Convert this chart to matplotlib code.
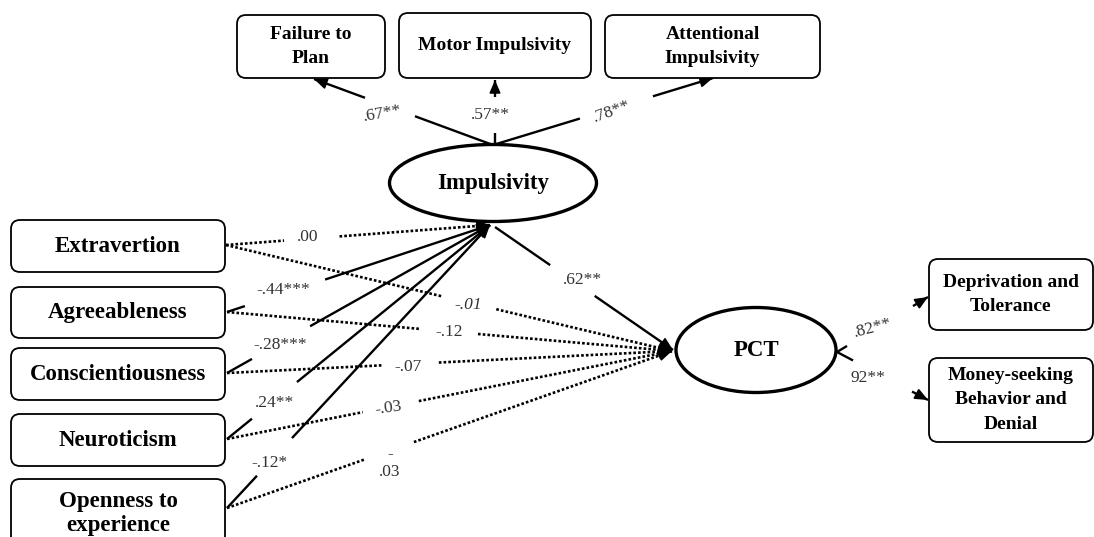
import numpy as np
import matplotlib
matplotlib.use("Agg")
import matplotlib.pyplot as plt
from matplotlib.patches import FancyBboxPatch, Ellipse

# ---------------- data ----------------
predictors = ["Extravertion", "Agreeableness", "Conscientiousness", "Neuroticism", "Openness to\nexperience"]
coef_to_impulsivity = [".00", "-.44***", "-.28***", ".24**", "-.12*"]
significant_to_impulsivity = [False, True, True, True, True]
coef_to_pct = ["-.01", "-.12", "-.07", "-.03", "-\n.03"]
impulsivity_indicators = ["Failure to\nPlan", "Motor Impulsivity", "Attentional\nImpulsivity"]
impulsivity_loadings = [".67**", ".57**", ".78**"]
pct_indicators = ["Deprivation and\nTolerance", "Money-seeking\nBehavior and\nDenial"]
pct_loadings = [".82**", "92**"]
impulsivity_to_pct = ".62**"
latent_names = ["Impulsivity", "PCT"]

# ---------------- layout (pixel coordinates) ----------------
W, H = 1094, 537
fig = plt.figure(figsize=(W / 100, H / 100), dpi=100)
ax = fig.add_axes([0, 0, 1, 1])
ax.set_xlim(0, W)
ax.set_ylim(H, 0)
ax.axis("off")

SERIF = ["Liberation Serif", "DejaVu Serif"]
LBL = "#333333"

def box(x0, y0, x1, y1, text, size, ls=1.55):
    p = FancyBboxPatch((x0, y0), x1 - x0, y1 - y0,
                       boxstyle="round,pad=0,rounding_size=9",
                       fc="white", ec="black", lw=1.3, zorder=3)
    ax.add_patch(p)
    ax.text((x0 + x1) / 2, (y0 + y1) / 2, text, ha="center", va="center",
            family=SERIF, weight="bold", fontsize=size, linespacing=ls, zorder=4)

def oval(cx, cy, w, h, text):
    e = Ellipse((cx, cy), w, h, fc="white", ec="black", lw=2.4, zorder=3)
    ax.add_patch(e)
    ax.text(cx, cy, text, ha="center", va="center", family=SERIF,
            weight="bold", fontsize=16.5, zorder=4)

def path(p0, p1, gap=None, dotted=False, head=True, lw=1.7):
    p0 = np.array(p0, float); p1 = np.array(p1, float)
    d = p1 - p0
    ls = (0, (1.0, 0.8)) if dotted else "-"
    if gap is None:
        segs = [(p0, p1)]
    else:
        segs = [(p0, p0 + gap[0] * d), (p0 + gap[1] * d, p1)]
    for a, b in segs:
        ax.plot([a[0], b[0]], [a[1], b[1]], color="black", lw=lw if not dotted else 1.9,
                linestyle=ls, solid_capstyle="butt", zorder=2)
    if head:
        u = d / np.linalg.norm(d)
        ax.annotate("", xy=p1, xytext=p1 - 3 * u,
                    arrowprops=dict(arrowstyle="-|>,head_length=0.65,head_width=0.28",
                                    mutation_scale=12, lw=1.2, color="black",
                                    shrinkA=0, shrinkB=0), zorder=2)

def label(x, y, s, rot=0, italic=False, size=12.5):
    ax.text(x, y, s, ha="center", va="center", family=SERIF, fontsize=size,
            color=LBL, rotation=rot, style="italic" if italic else "normal",
            linespacing=1.2, zorder=5)

# latent variables
imp_c = (493, 183)
pct_c = (756, 350)
oval(*imp_c, 207, 77, latent_names[0])
oval(*pct_c, 160, 85, latent_names[1])

# impulsivity indicators (top)
top_boxes = [(237, 15, 385, 78), (399, 13, 591, 78), (605, 15, 820, 78)]
top_tips = [(314, 79), (495, 80), (713, 78)]
top_starts = [(493, 145), (495, 145), (493, 145)]
top_gaps = [(0.436, 0.715), (0.19, 0.74), (0.395, 0.727)]
top_lbl = [(382, 114, 10), (490, 115, 0), (612, 112, 20)]
for (x0, y0, x1, y1), name, tip, st, g, (lx, ly, r), lo in zip(
        top_boxes, impulsivity_indicators, top_tips, top_starts, top_gaps, top_lbl,
        impulsivity_loadings):
    box(x0, y0, x1, y1, name, 14)
    path(st, tip, gap=g)
    label(lx, ly, lo, rot=r)

# predictor boxes (left)
pred_boxes = [(11, 220, 225, 272), (11, 287, 225, 338), (11, 348, 225, 400),
              (11, 414, 225, 466), (11, 479, 225, 548)]
pred_anchor = [(226, 245), (227, 312), (227, 373), (227, 439), (227, 508)]
imp_target = (490, 225)
pct_target = (672, 351)
imp_gaps = [(0.22, 0.43), (0.068, 0.373), (0.095, 0.316), (0.095, 0.266), (0.114, 0.247)]
pct_gaps = [(0.486, 0.606), (0.436, 0.564), (0.35, 0.476), (0.305, 0.431), (0.31, 0.42)]
imp_lbl = [(308, 237, 0), (283, 290, 0), (280, 345, 0), (275, 403, 0), (270, 463, 0)]
pct_lbl = [(468, 305, 0, True), (449, 332, 0, False), (408, 367, 0, False),
           (388, 408, 8, False), (390, 463, 0, False)]

for i, name in enumerate(predictors):
    x0, y0, x1, y1 = pred_boxes[i]
    box(x0, y0, x1, y1, name, 16.5, ls=1.25)
    path(pred_anchor[i], imp_target, gap=imp_gaps[i],
         dotted=not significant_to_impulsivity[i])
    path(pred_anchor[i], pct_target, gap=pct_gaps[i], dotted=True)
    lx, ly, r = imp_lbl[i]
    label(lx, ly, coef_to_impulsivity[i], rot=r)
    lx, ly, r, it = pct_lbl[i]
    label(lx, ly, coef_to_pct[i], rot=r, italic=it)

# impulsivity -> PCT
path((495, 227), (673, 350), gap=(0.31, 0.56))
label(582, 280, impulsivity_to_pct)

# PCT indicators (right)
right_boxes = [(929, 259, 1093, 330), (929, 358, 1093, 442)]
right_tips = [(928, 297), (928, 400)]
right_gaps = [(0.11, 0.835), (0.176, 0.824)]
right_lbl = [(873, 328, 15), (868, 378, 0)]
for (x0, y0, x1, y1), name, tip, g, (lx, ly, r), lo in zip(
        right_boxes, pct_indicators, right_tips, right_gaps, right_lbl, pct_loadings):
    box(x0, y0, x1, y1, name, 14)
    path((837, 352), tip, gap=g)
    label(lx, ly, lo, rot=r)

fig.savefig("out.png", dpi=100, facecolor="white")
